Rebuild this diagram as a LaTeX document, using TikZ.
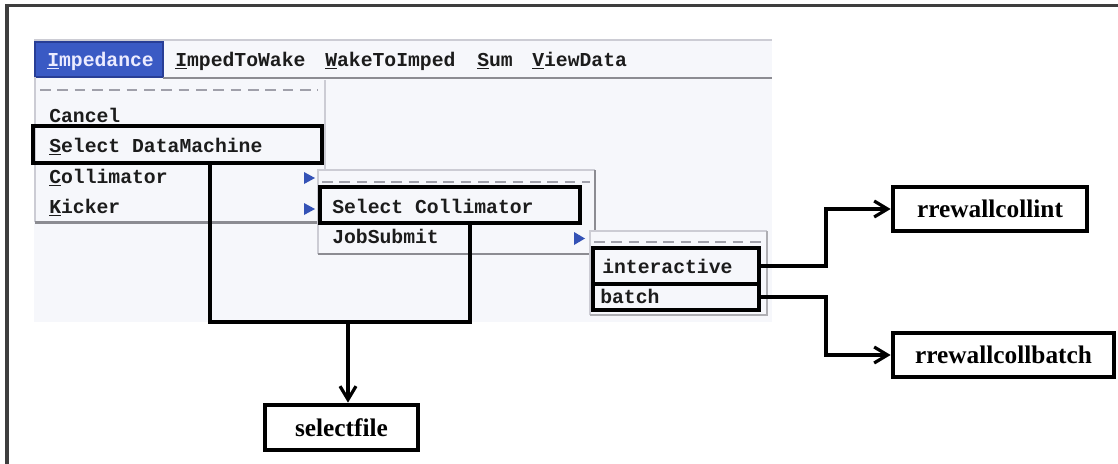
\documentclass[tikz,border=0pt]{standalone}
\usepackage{fontspec}
\setmonofont{Liberation Mono}
\newfontfamily\boxfont{Liberation Serif}
\usetikzlibrary{arrows.meta}

\definecolor{shotbg}{RGB}{246,247,251}
\definecolor{menublue}{RGB}{58,90,196}
\definecolor{menubluedark}{RGB}{40,62,150}
\definecolor{panelline}{RGB}{204,204,212}
\definecolor{sepgray}{RGB}{140,140,146}
\definecolor{dashgray}{RGB}{160,160,170}
\definecolor{menutext}{RGB}{28,28,28}
\definecolor{trifill}{RGB}{52,82,182}
\definecolor{framegray}{RGB}{62,62,62}

\newcommand\menufont{\fontsize{14.8}{16}\selectfont\ttfamily\bfseries}
\newcommand\mn[1]{\underline{#1}}

\tikzset{
  menuitem/.style={anchor=base west, inner sep=0pt, font=\menufont, text=menutext},
  hlbox/.style 2 args={draw=black, line width=3pt, inner sep=0pt,
    minimum width=#1*0.75pt, minimum height=#2*0.75pt},
  outbox/.style 2 args={draw=black, line width=3.6pt, inner sep=0pt, fill=white,
    minimum width=#1*0.75pt, minimum height=#2*0.75pt,
    font=\boxfont\fontsize{19}{22}\selectfont\bfseries},
  conn/.style={draw=black, line width=3pt},
  arr/.style={conn, -{Straight Barb[length=10pt, width=12pt, line width=2.4pt]}},
  panel/.style={draw=panelline, line width=1.2pt},
  dashsep/.style={draw=dashgray, line width=1.2pt, dash pattern=on 8pt off 5pt},
  tri/.style={fill=trifill},
}

\begin{document}
\begin{tikzpicture}[x=0.75pt, y=-0.75pt]
\useasboundingbox (0,0) rectangle (1118,464);

% outer frame (top and left edges)
\draw[framegray, line width=2.4pt] (7,464) -- (7,5.5) -- (1118,5.5);

% application window background
\fill[shotbg] (34,39) rectangle (772,322);
\draw[panelline, line width=1pt] (34,40) -- (772,40);

% menu bar
\fill[menublue] (35,42) rectangle (163,77);
\draw[menubluedark, line width=0.8pt] (35,42) rectangle (163,77);
\draw[sepgray, line width=1.6pt] (163,78) -- (772,78);
\node[menuitem, text=white!92!blue] (mImp) at (47,66) {\mn{I}mpedance};
\node[menuitem] (mI2W) at (175,66) {\mn{I}mpedToWake};
\node[menuitem] (mW2I) at (325,66) {\mn{W}akeToImped};
\node[menuitem] (mSum) at (477,66) {\mn{S}um};
\node[menuitem] (mView) at (532,66) {\mn{V}iewData};

% edge of the window area beside the first drop-down
\draw[panel] (325,80) -- (325,170);

% first drop-down menu
\draw[panel] (35,77) -- (35,222);
\draw[sepgray, line width=1.6pt] (35,222.5) -- (318,222.5);
\draw[dashsep] (40,90) -- (318,90);
\node[menuitem] (iCancel) at (49,122) {\mn{C}ancel};
\node[menuitem] (iSelDM) at (49,152) {\mn{S}elect DataMachine};
\node[menuitem] (iColl) at (49,183) {\mn{C}ollimator};
\node[menuitem] (iKick) at (49,213) {\mn{K}icker};
\fill[tri] (304,172) -- (315,178) -- (304,184) -- cycle;
\fill[tri] (304,203) -- (315,209) -- (304,215) -- cycle;

% second drop-down menu
\fill[shotbg] (318,170) rectangle (595,254);
\draw[panel] (318,254) -- (318,170) -- (595,170);
\draw[sepgray, line width=1.4pt] (318,254) -- (595,254) -- (595,170);
\draw[dashsep] (322,182) -- (590,182);
\node[menuitem] (iSelC) at (332,213) {Select Collimator};
\node[menuitem] (iJob) at (332,243) {JobSubmit};
\fill[tri] (574,232) -- (585,238.5) -- (574,245) -- cycle;

% third drop-down menu
\fill[shotbg] (590,231) rectangle (767,315);
\draw[panel] (590,315) -- (590,231) -- (767,231);
\draw[sepgray!70!white, line width=1.4pt] (590,315) -- (767,315) -- (767,231);
\draw[dashsep] (594,242) -- (762,242);
\node[menuitem] (iInt) at (602,273) {interactive};
\node[menuitem] (iBat) at (600,303) {batch};

% highlighted menu entries
\node[hlbox={289}{37}] (bDM) at (177.5,144.5) {};
\node[hlbox={260}{36}] (bSC) at (450,205) {};
\node[hlbox={166}{36}] (bInt) at (676,266) {};
\node[hlbox={166}{26}] (bBat) at (676,297) {};

% resulting actions
\node[outbox={153}{45}] (selfile) at (341.5,427.5) {selectfile};
\node[outbox={194}{44}] (rint) at (990,209) {rrewallcollint};
\node[outbox={221}{44}] (rbat) at (1003.5,355) {rrewallcollbatch};

% connectors
\coordinate (j1) at (210,322);
\coordinate (j2) at (470,322);
\coordinate (jn) at (348,322);
\coordinate (k1) at (826,0);
\draw[conn, line join=miter] (bDM.south -| j1) -- (j1) -- (j2) -- (bSC.south -| j2);
\draw[arr] (jn) -- (selfile.north -| jn);
\draw[arr, line join=miter] (bInt.east) -- (bInt.east -| k1) |- (rint.west);
\draw[arr, line join=miter] (bBat.east) -- (bBat.east -| k1) |- (rbat.west);
\end{tikzpicture}
\end{document}
